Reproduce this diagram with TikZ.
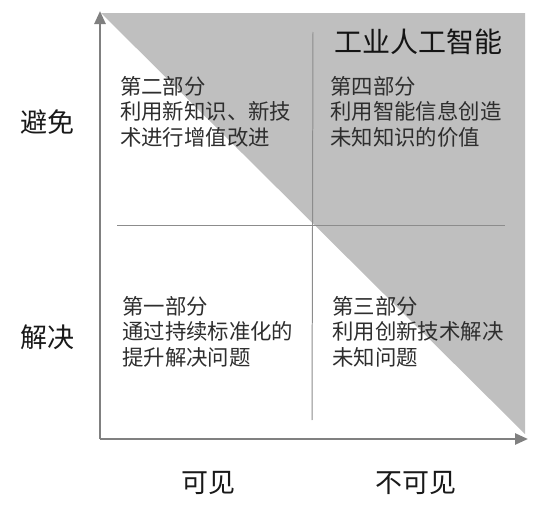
\documentclass[tikz,border=0pt]{standalone}
\usepackage{fontspec}
\setmainfont{Noto Sans CJK SC}
\usetikzlibrary{arrows.meta}
\tikzset{
	parttext/.style={anchor=north west, inner sep=0pt, align=left, color=black!82,
		font=\fontsize{21.4}{25.5}\selectfont},
	axistext/.style={inner sep=0pt, color=black!90, font=\fontsize{27}{30}\selectfont},
}

\begin{document}
\begin{tikzpicture}[x=1pt, y=-1pt]
			%%%%% START %%%%%
			\useasboundingbox (0, 0) rectangle (539, 514);
			
			\fill[color=black!25] (101, 13) -- (525, 13) -- (525, 434) -- cycle;
			
			\draw[line width=0.35mm, color=black!45] (117, 225) -- (505, 225);
			\draw[line width=0.35mm, color=black!45] (313, 32) -- (312, 420);
			
			\coordinate (origin) at (100, 439);
			\coordinate (ytop) at (100, 11);
			\coordinate (xend) at (528, 439);
			\draw[line width=0.9mm, color=black!50, -{Triangle[length=13pt, width=11pt]}] (origin) -- (ytop);
			\draw[line width=0.9mm, color=black!50, -{Triangle[length=13pt, width=11pt]}] (origin) -- (xend);
			
			\node[inner sep=0pt, color=black!92, font=\fontsize{28}{30}\selectfont] (title) at (418, 42) {工业人工智能};
			
			\node[parttext] (part2) at (120, 76) {第二部分\\利用新知识、新技\\术进行增值改进};
			\node[parttext] (part4) at (330, 76) {第四部分\\利用智能信息创造\\未知知识的价值};
			\node[parttext] (part1) at (122, 296) {第一部分\\通过持续标准化的\\提升解决问题};
			\node[parttext] (part3) at (332, 296) {第三部分\\利用创新技术解决\\未知问题};
			
			\node[axistext] (avoid) at (47, 122) {避免};
			\node[axistext] (solve) at (47, 337) {解决};
			\node[axistext] (visible) at (208, 483) {可见};
			\node[axistext] (invisible) at (416, 483) {不可见};
			
			%%%%% END %%%%%
\end{tikzpicture}
\end{document}
